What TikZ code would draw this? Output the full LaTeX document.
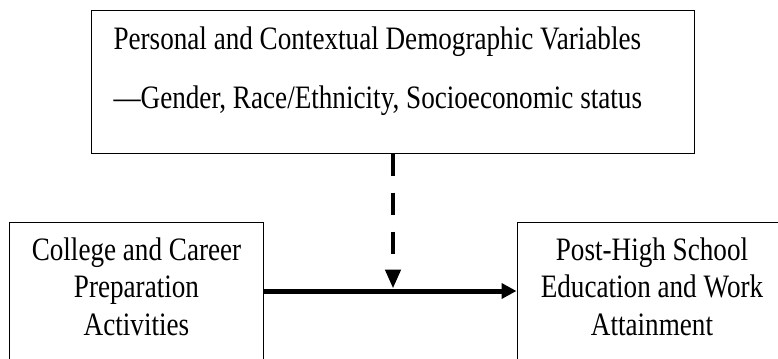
\documentclass[tikz,border=0pt]{standalone}
\usepackage{fontspec}
\setmainfont{Liberation Serif}[FakeStretch=0.83]
\usetikzlibrary{arrows.meta,positioning}
\begin{document}
\begin{tikzpicture}[x=1bp,y=-1bp,
        box/.style={draw,line width=1bp,inner sep=0pt},
        txt/.style={font=\fontsize{32.7bp}{37.5bp}\selectfont,align=center},
        flow/.style={line width=5bp,-{Triangle[length=15bp,width=15bp]}},
        moderate/.style={line width=4.5bp,dash pattern=on 22bp off 17bp,-{Triangle[length=19bp,width=15bp]}}]
        \useasboundingbox (0,0) rectangle (778,358);
        \clip (0,0) rectangle (778,358);

        \node[box,minimum width=602bp,minimum height=143bp] (demo) at (393,81.5) {};
        \node[txt,align=left,anchor=base west,font=\fontsize{32.7bp}{59bp}\selectfont] (demotext) at (110,108)
            {Personal and Contextual Demographic Variables\\—Gender, Race/Ethnicity, Socioeconomic status};

        \node[box,txt,text depth=9.4bp,minimum width=253bp,minimum height=138bp] (prep) at (136.5,291) {College and Career\\Preparation\\Activities};
        \node[box,txt,text depth=9.4bp,minimum width=270bp,minimum height=138bp] (post) at (652,291) {Post-High School\\Education and Work\\Attainment};

        \draw[flow] (prep.east) -- (post.west);
        \draw[moderate,shorten >=2.5bp] (demo.south) -- (demo.south |- prep.east);
    \end{tikzpicture}
\end{document}
